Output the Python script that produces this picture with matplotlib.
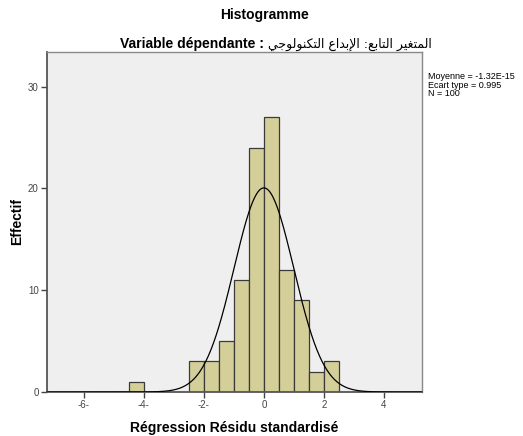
import numpy as np
from matplotlib import pyplot as plt

# histogram data (bin width 0.5)
bin_left = [-4.5, -2.5, -2.0, -1.5, -1.0, -0.5, 0.0, 0.5, 1.0, 1.5, 2.0]
counts = [1, 3, 3, 5, 11, 24, 27, 12, 9, 2, 3]
bin_width = 0.5
mean = -1.32e-15
std = 0.995
n = 100

x_ticks = [-6, -4, -2, 0, 2, 4]
x_tick_labels = ['-6-', '-4-', '-2-', '0', '2', '4']
y_ticks = [0, 10, 20, 30]

fonts = ['Liberation Sans', 'DejaVu Sans']
plt.rcParams['font.family'] = fonts

# arabic part written in presentation forms, visual order
arabic = ('\uFEF2\uFE9F\uFEEE\uFEDF\uFEEE\uFEE8\uFEDC\uFE98\uFEDF\uFE8D'
          ' \uFEC9\uFE8D\uFEAA\uFE91\uFEF9\uFE8D'
          ' :\uFECA\uFE91\uFE8E\uFE98\uFEDF\uFE8D'
          ' \uFEAE\uFEF4\uFED0\uFE98\uFEE4\uFEDF\uFE8D')

fig = plt.figure(figsize=(5.23, 4.36), dpi=100)
ax = fig.add_axes([0.0899, 0.1009, 0.717, 0.78])
ax.set_facecolor('#efefef')

ax.bar(bin_left, counts, width=bin_width, align='edge',
       color='#d4cf98', edgecolor='#3a3a3a', linewidth=0.9, zorder=2)

xs = np.linspace(-7.3, 5.3, 600)
ys = n * bin_width * np.exp(-0.5 * ((xs - mean) / std) ** 2) / (std * np.sqrt(2 * np.pi))
ax.plot(xs, ys, color='black', linewidth=0.9, zorder=3)

ax.set_xlim(-7.23, 5.27)
ax.set_ylim(0, 33.4)
ax.set_xticks(x_ticks)
ax.set_xticklabels(x_tick_labels)
ax.set_yticks(y_ticks)
ax.tick_params(axis='both', labelsize=7, colors='#444444', length=4, width=1, pad=2)

for side in ['top', 'right']:
    ax.spines[side].set_color('#888888')
    ax.spines[side].set_linewidth(1)
for side in ['left', 'bottom']:
    ax.spines[side].set_color('#555555')
    ax.spines[side].set_linewidth(1.3)

ax.set_xlabel('Régression Résidu standardisé', fontsize=10, fontweight='bold', labelpad=8)
ax.set_ylabel('Effectif', fontsize=10, fontweight='bold', labelpad=3)

fig.text(0.505, 0.965, 'Histogramme', ha='center', va='center', fontsize=10, fontweight='bold')
fig.text(0.512, 0.898, 'Variable dépendante : ', ha='right', va='center', fontsize=10, fontweight='bold')
fig.text(0.512, 0.898, arabic, ha='left', va='center', fontsize=9, family=['DejaVu Sans'])

fig.text(0.818, 0.805, 'Moyenne = -1.32E-15\nEcart type = 0.995\nN = 100',
         ha='left', va='center', fontsize=6.5, linespacing=0.95)

fig.savefig('out.png', dpi=100)
